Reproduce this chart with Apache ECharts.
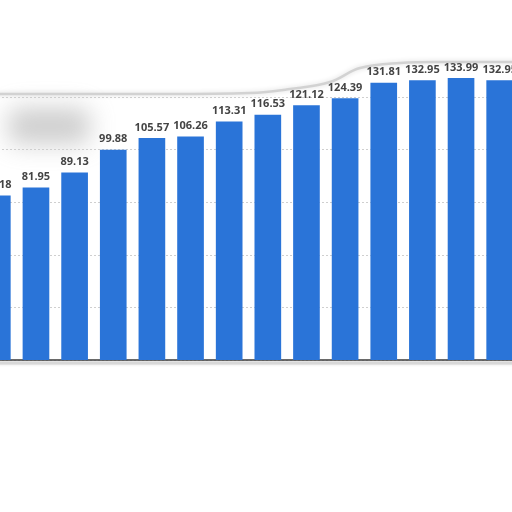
<!DOCTYPE html>
<html>
<head>
<meta charset="utf-8">
<script src="https://cdn.jsdelivr.net/npm/echarts@6/dist/echarts.min.js"></script>
<style>html,body{margin:0;padding:0;background:#fff;overflow:hidden;width:512px;height:512px;}#c{width:541px;height:512px;margin-left:-22px;}</style>
</head>
<body>
<div id="c"></div>
<script>
var categories = ['2009','2010','2011','2012','2013','2014','2015','2016','2017','2018','2019','2020','2021','2022'];
var values = [78.18, 81.95, 89.13, 99.88, 105.57, 106.26, 113.31, 116.53, 121.12, 124.39, 131.81, 132.95, 133.99, 132.95];

var chart = echarts.init(document.getElementById('c'));
chart.setOption({
  animation: false,
  backgroundColor: '#ffffff',
  grid: { left: 0, right: 0, top: 97, bottom: 152 },
  graphic: [
    {
      type: 'rect', z: 0, silent: true,
      shape: { x: 30, y: 108 - 2000, width: 82, height: 36, r: 10 },
      style: { fill: '#cccccc', shadowBlur: 24, shadowOffsetY: 2000, shadowColor: 'rgba(190,190,190,0.75)' }
    },
    {
      type: 'polyline', z: 0, silent: true,
      shape: { points: [[0, 94], [150, 94], [272, 93], [312, 89], [352, 82], [382, 68], [422, 63], [472, 62], [540, 62]], smooth: 0.4 },
      style: { stroke: '#d2d2d2', lineWidth: 2.5, fill: null, shadowBlur: 5, shadowColor: '#dadada' }
    },
    {
      type: 'line', z: 0, silent: true,
      shape: { x1: 0, y1: 363, x2: 541, y2: 363 },
      style: { stroke: '#d8d8d8', lineWidth: 3, shadowBlur: 3, shadowColor: '#dddddd' }
    }
  ],
  xAxis: {
    type: 'category',
    data: categories,
    axisLine: { show: true, lineStyle: { color: '#3a3a3a', width: 1.5 } },
    axisTick: { show: false },
    axisLabel: { show: false }
  },
  yAxis: {
    type: 'value',
    min: 0,
    max: 125,
    interval: 25,
    axisLabel: { show: false },
    axisLine: { show: false },
    axisTick: { show: false },
    splitLine: { show: true, lineStyle: { color: '#cfcfcf', type: [2, 2], width: 1 } }
  },
  series: [{
    type: 'bar',
    data: values,
    clip: false,
    z: 2,
    barCategoryGap: '31%',
    itemStyle: { color: '#2a74d8' },
    label: {
      show: true,
      position: 'top',
      distance: 5,
      color: '#444444',
      fontFamily: 'Open Sans',
      fontWeight: 'bold',
      fontSize: 11,
      formatter: function (p) { return p.value.toFixed(2); }
    }
  }]
});
</script>
</body>
</html>
